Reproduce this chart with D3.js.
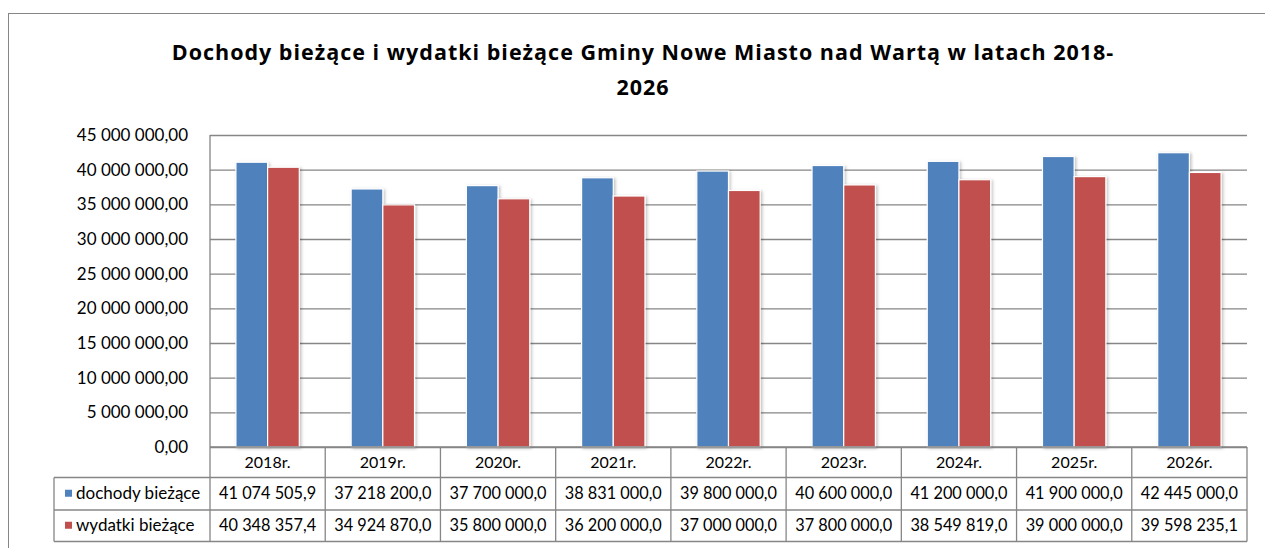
<!DOCTYPE html>
<html>
<head>
<meta charset="utf-8">
<script src="https://cdn.jsdelivr.net/npm/d3@7"></script>
<style>
  body { margin: 0; background: #fff; }
  svg text { font-family: "Lato", "Open Sans", sans-serif; fill: #000; }
</style>
</head>
<body>
<div id="chart"></div>
<script>
// data
var years = ["2018r.", "2019r.", "2020r.", "2021r.", "2022r.", "2023r.", "2024r.", "2025r.", "2026r."];
var seriesNames = ["dochody bieżące", "wydatki bieżące"];
var dochody = [41074505.9, 37218200.0, 37700000.0, 38831000.0, 39800000.0, 40600000.0, 41200000.0, 41900000.0, 42445000.0];
var wydatki = [40348357.4, 34924870.0, 35800000.0, 36200000.0, 37000000.0, 37800000.0, 38549819.0, 39000000.0, 39598235.1];
var yTicks = [0, 5000000, 10000000, 15000000, 20000000, 25000000, 30000000, 35000000, 40000000, 45000000];
var titleLines = ["Dochody bieżące i wydatki bieżące Gminy Nowe Miasto nad Wartą w latach 2018-", "2026"];

var W = 1265, H = 548;
var plot = {left: 210, right: 1247, top: 135, bottom: 447};
var colors = ["#4F81BD", "#C0504D"];
var gridColor = "#868686";

var pl = d3.formatLocale({decimal: ",", thousands: "\u00a0", grouping: [3], currency: ["", ""]});
var fmtAxis = pl.format(",.2f"),
    fmtCell = pl.format(",.1f");

var svg = d3.select("#chart").append("svg")
  .attr("width", W)
  .attr("height", H);

// drop shadow for bars
var defs = svg.append("defs");
var f = defs.append("filter").attr("id", "shadow").attr("x", "-20%").attr("y", "-5%").attr("width", "150%").attr("height", "115%");
f.append("feDropShadow").attr("dx", 1.5).attr("dy", 1).attr("stdDeviation", 1.5).attr("flood-color", "#000").attr("flood-opacity", 0.25);

// chart frame
svg.append("rect")
  .attr("x", 8.5).attr("y", 13.5)
  .attr("width", W).attr("height", H)
  .attr("fill", "none").attr("stroke", gridColor);

// title
svg.append("text")
  .attr("x", 643).attr("y", 60)
  .attr("text-anchor", "middle")
  .style("font-family", "'Open Sans', sans-serif")
  .style("font-weight", "bold").style("font-size", "21.5px")
  .style("letter-spacing", "1px")
  .selectAll("tspan").data(titleLines).enter().append("tspan")
  .attr("x", 643).attr("dy", function(d, i){ return i ? 35 : 0; })
  .text(function(d){ return d; });

var x = d3.scaleBand().domain(years).range([plot.left, plot.right]);
var y = d3.scaleLinear().domain([0, 45000000]).range([plot.bottom, plot.top]);

// gridlines + y axis labels
var yAxis = svg.append("g")
  .attr("transform", "translate(" + plot.left + ",0)")
  .call(d3.axisLeft(y).tickValues(yTicks).tickFormat(fmtAxis).tickSize(-(plot.right - plot.left)).tickPadding(22));
yAxis.select(".domain").remove();
yAxis.selectAll("line").attr("stroke", gridColor).attr("stroke-width", 1.3);
yAxis.selectAll("text")
  .style("font-size", "17px")
  .style("font-family", "Lato, sans-serif").attr("fill", "#000");

// vertical axis line
svg.append("line")
  .attr("x1", plot.left).attr("x2", plot.left)
  .attr("y1", plot.top).attr("y2", plot.bottom)
  .attr("stroke", gridColor).attr("stroke-width", 1.3);

// bars
var barW = x.bandwidth() * 0.275;
var series = [dochody, wydatki];
series.forEach(function(vals, s){
  svg.append("g").selectAll("rect")
    .data(vals)
    .enter().append("rect")
    .attr("x", function(d, i){ return x(years[i]) + x.bandwidth() / 2 - barW + s * barW; })
    .attr("y", function(d){ return y(d); })
    .attr("width", barW)
    .attr("height", function(d){ return y(0) - y(d); })
    .attr("fill", colors[s])
    .attr("stroke", "#fff")
    .attr("stroke-width", 1.2)
    .attr("filter", "url(#shadow)");
});

// data table
var rowTops = [plot.bottom, 477.5, 510, 541.5];
var tableLeft = 54;
var tbl = svg.append("g");
var lineStyle = function(sel){ return sel.attr("stroke", gridColor).attr("stroke-width", 1.3); };

// horizontal rules
lineStyle(tbl.append("line").attr("x1", plot.left).attr("x2", plot.right).attr("y1", rowTops[0]).attr("y2", rowTops[0]));
[1, 2, 3].forEach(function(r){
  lineStyle(tbl.append("line").attr("x1", tableLeft).attr("x2", plot.right)
    .attr("y1", rowTops[r]).attr("y2", rowTops[r]));
});
// vertical rules
lineStyle(tbl.append("line").attr("x1", tableLeft).attr("x2", tableLeft).attr("y1", rowTops[1]).attr("y2", rowTops[3]));
years.forEach(function(yr){
  lineStyle(tbl.append("line").attr("x1", x(yr)).attr("x2", x(yr)).attr("y1", rowTops[0]).attr("y2", rowTops[3]));
});
lineStyle(tbl.append("line").attr("x1", plot.right).attr("x2", plot.right).attr("y1", rowTops[0]).attr("y2", rowTops[3]));

// header row
tbl.selectAll(".hdr").data(years).enter().append("text")
  .attr("x", function(d){ return x(d) + x.bandwidth() / 2; })
  .attr("y", (rowTops[0] + rowTops[1]) / 2 + 5.5)
  .attr("text-anchor", "middle")
  .style("font-size", "16px")
  .text(function(d){ return d; });

// value rows
series.forEach(function(vals, s){
  var cy = (rowTops[s + 1] + rowTops[s + 2]) / 2;
  tbl.append("rect")
    .attr("x", 65).attr("y", cy - 4)
    .attr("width", 7).attr("height", 7)
    .attr("fill", colors[s]);
  tbl.append("text")
    .attr("x", 76).attr("y", cy + 5.5)
    .style("font-size", "17px")
    .text(seriesNames[s]);
  tbl.append("g").selectAll("text")
    .data(vals)
    .enter().append("text")
    .attr("x", function(d, i){ return x(years[i]) + x.bandwidth() / 2; })
    .attr("y", cy + 5.5)
    .attr("text-anchor", "middle")
    .style("font-size", "16.3px")
    .text(function(d){ return fmtCell(d); });
});
</script>
</body>
</html>
